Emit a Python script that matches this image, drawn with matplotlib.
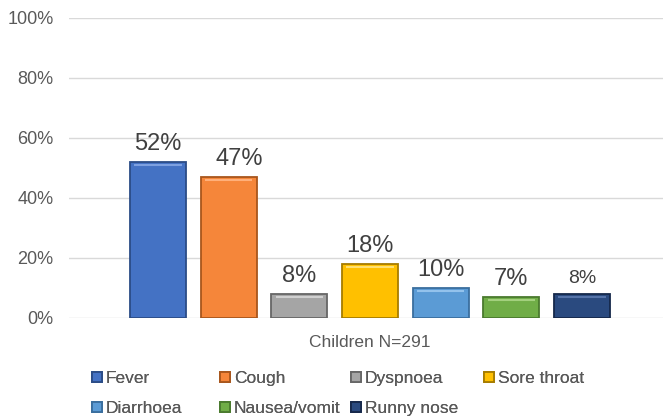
import matplotlib
matplotlib.use("Agg")
import matplotlib.pyplot as plt
import numpy as np

symptoms = ["Fever", "Cough", "Dyspnoea", "Sore throat", "Diarrhoea", "Nausea/vomit", "Runny nose"]
values = [52, 47, 8, 18, 10, 7, 8]
labels = ["52%", "47%", "8%", "18%", "10%", "7%", "8%"]
category = "Children N=291"
yticks = [0, 20, 40, 60, 80, 100]
colors = ["#4472C4", "#F5863A", "#A5A5A5", "#FFC000", "#5B9BD5", "#70AD47", "#2A4A7F"]
edges = ["#2B4C86", "#A8561C", "#666666", "#A67C00", "#3A6E9E", "#4A7A2E", "#15284A"]
lights = ["#7DA0E0", "#FFB07A", "#D0D0D0", "#FFE070", "#93C2EC", "#A3D07E", "#5573A8"]

plt.rcParams['font.family'] = ['Liberation Sans', 'DejaVu Sans']
txt = "#595959"

fig = plt.figure(figsize=(6.63, 4.17), dpi=100)
ax = fig.add_axes([69/663, 1 - 318/417, (670 - 69)/663, 300/417])

n = len(values)
w = 56 / 70.7
xs = np.arange(n) - (n - 1) / 2
label_dx = {1: 0.15}
handles = []
for i, (x, v) in enumerate(zip(xs, values)):
    b = ax.bar(x, v, width=w, color=colors[i], edgecolor=edges[i], linewidth=1.3,
               label=symptoms[i], zorder=3)
    handles.append(b)
    ax.plot([x - w / 2 + 0.06, x + w / 2 - 0.06], [v - 1.0, v - 1.0],
            color=lights[i], linewidth=1.5, zorder=4, solid_capstyle="butt")
    fs = 14 if i == n - 1 else 17
    ax.text(x + label_dx.get(i, 0), v + 2.3, labels[i], ha="center", va="bottom",
            fontsize=fs, color="#404040")

xmin = -(370 - 69) / 70.7
xmax = (670 - 370) / 70.7
ax.set_xlim(xmin, xmax)
ax.set_ylim(0, 100)
ax.set_yticks(yticks)
ax.set_yticklabels([f"{t}%" for t in yticks], fontsize=13, color=txt)
ax.set_xticks([0])
ax.set_xticklabels([category], fontsize=12.5, color=txt)
ax.tick_params(axis="y", length=0, pad=11)
ax.tick_params(axis="x", length=0, pad=12)
ax.grid(axis="y", color="#D9D9D9", linewidth=1, zorder=0)
for s in ax.spines.values():
    s.set_visible(False)

# legend laid out row-wise in 4 columns, each column its own legend
col_x = [92, 220, 351, 484]
columns = [[0, 4], [1, 5], [2, 6], [3]]
for cx, idxs in zip(col_x, columns):
    lg = fig.legend([handles[k] for k in idxs], [symptoms[k] for k in idxs],
                    loc="upper left", bbox_to_anchor=(cx / 663, 1 - 371 / 417),
                    ncol=1, frameon=False, fontsize=12.5, labelcolor=txt,
                    handlelength=0.55, handleheight=0.55, handletextpad=0.25,
                    labelspacing=0.86, borderpad=0, borderaxespad=0)
    fig.add_artist(lg)

fig.savefig("out.png", dpi=100)
